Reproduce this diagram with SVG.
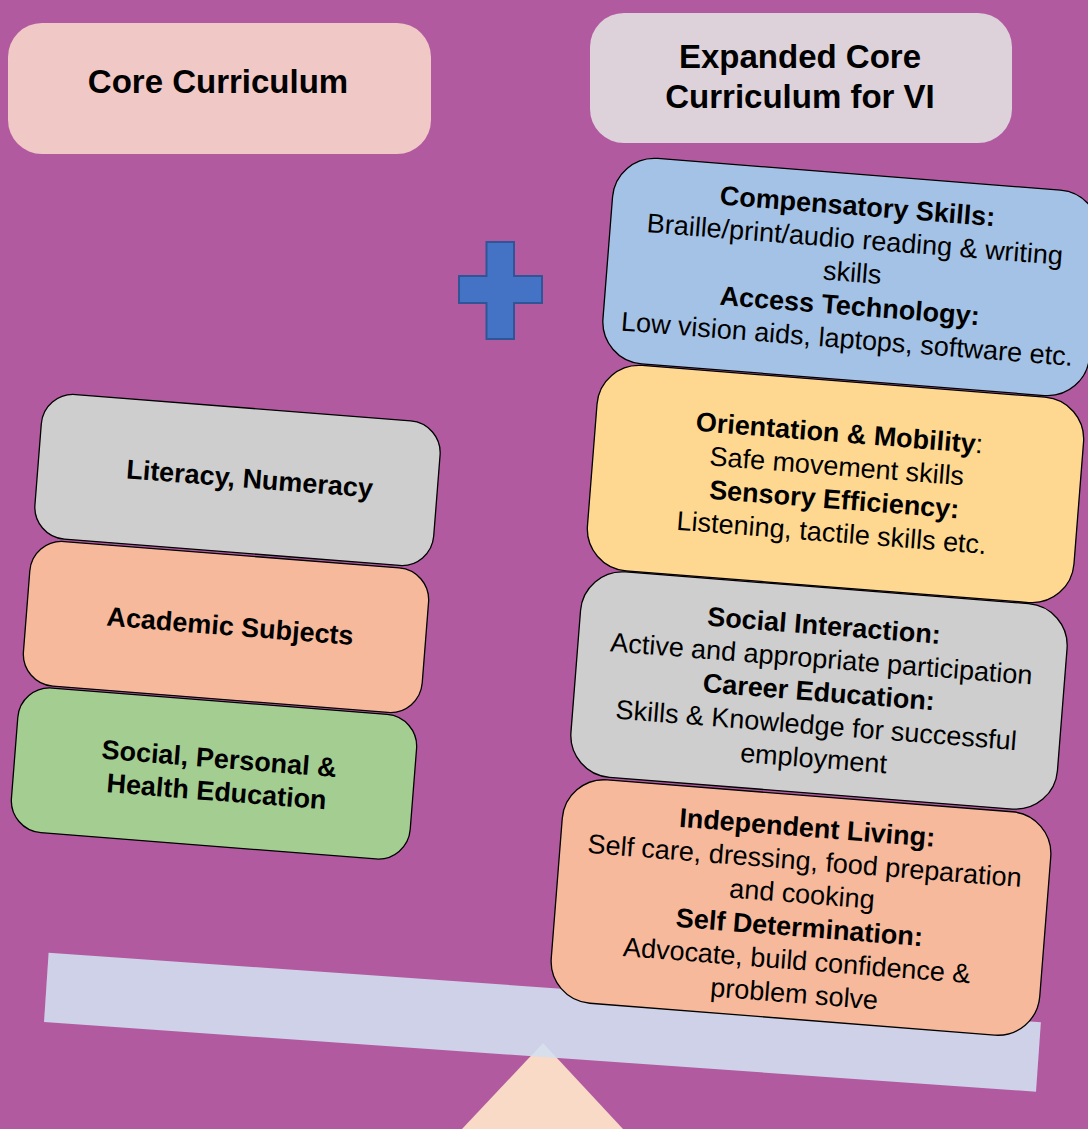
<svg xmlns="http://www.w3.org/2000/svg" width="1088" height="1129" viewBox="0 0 1088 1129">
<style>
text{font-family:"Liberation Sans",Arial,sans-serif;fill:#000;text-anchor:middle}
.h{font-size:33px;font-weight:bold}
.t{font-size:27px}
.b{font-weight:bold}
.box{stroke:#000;stroke-width:1.3}
</style>
<rect x="0" y="0" width="1088" height="1129" fill="#B15AA0"/>
<g id="fulcrum"><polygon points="543,1043 462,1129 623,1129" fill="#F8DAC6"/></g>
<g id="beam"><polygon points="48.6,952.7 1040.9,1022.3 1036,1091.7 44,1022" fill="#D1DFEF" fill-opacity="0.89"/></g>
<g id="header-core">
<rect x="8" y="23" width="423" height="131" rx="34" fill="#F0C8C6"/>
<text class="h" x="218" y="93">Core Curriculum</text>
</g>
<g id="header-expanded">
<rect x="590" y="13" width="422" height="130" rx="34" fill="#DDD2DA"/>
<text class="h" x="800" y="68">Expanded Core</text>
<text class="h" x="800" y="108">Curriculum for VI</text>
</g>
<g id="plus"><polygon points="486.5,242 514,242 514,276 542,276 542,303 514,303 514,339 486.5,339 486.5,303 459,303 459,276 486.5,276" fill="#4472C4" stroke="#2F5597" stroke-width="2"/></g>
<g id="literacy" transform="translate(237.5,480) rotate(4.5)">
<rect class="box" x="-200" y="-72.5" width="400" height="145" rx="32" fill="#CECECE"/>
<text class="t b" x="12" y="7">Literacy, Numeracy</text>
</g>
<g id="academic" transform="translate(226,627) rotate(4.5)">
<rect class="box" x="-200" y="-72.5" width="400" height="145" rx="32" fill="#F6B99C"/>
<text class="t b" x="4" y="8">Academic Subjects</text>
</g>
<g id="sphe" transform="translate(214,773.5) rotate(4.5)">
<rect class="box" x="-200" y="-72.5" width="400" height="145" rx="32" fill="#A4CD92"/>
<text class="t b" x="4" y="-6">Social, Personal &amp;</text>
<text class="t b" x="4" y="27">Health Education</text>
</g>
<g id="compensatory" transform="translate(851,277) rotate(4.5)">
<rect class="box" x="-244" y="-103" width="488" height="206" rx="42" fill="#A4C2E5"/>
<text class="t b" x="1" y="-62">Compensatory Skills:</text>
<text class="t" x="1" y="-28.7">Braille/print/audio reading &amp; writing</text>
<text class="t" x="1" y="4.6">skills</text>
<text class="t b" x="1" y="38">Access Technology:</text>
<text class="t" x="1" y="71.3">Low vision aids, laptops, software etc.</text>
</g>
<g id="orientation" transform="translate(835.5,484) rotate(4.5)">
<rect class="box" x="-244" y="-103" width="488" height="206" rx="42" fill="#FED891"/>
<text class="t" x="0" y="-42"><tspan class="b">Orientation &amp; Mobility</tspan>:</text>
<text class="t" x="0" y="-8.7">Safe movement skills</text>
<text class="t b" x="0" y="24.6">Sensory Efficiency:</text>
<text class="t" x="0" y="58">Listening, tactile skills etc.</text>
</g>
<g id="social" transform="translate(819,690.5) rotate(4.5)">
<rect class="box" x="-244" y="-103" width="488" height="206" rx="42" fill="#CECECE"/>
<text class="t b" x="0" y="-56">Social Interaction:</text>
<text class="t" x="0" y="-22.7">Active and appropriate participation</text>
<text class="t b" x="0" y="10.6">Career Education:</text>
<text class="t" x="0" y="44">Skills &amp; Knowledge for successful</text>
<text class="t" x="0" y="77.3">employment</text>
</g>
<g id="independent" transform="translate(801,907.5) rotate(4.5)">
<rect class="box" x="-245" y="-112" width="490" height="224" rx="42" fill="#F6B99C"/>
<text class="t b" x="0" y="-71">Independent Living:</text>
<text class="t" x="0" y="-37.7">Self care, dressing, food preparation</text>
<text class="t" x="0" y="-4.4">and cooking</text>
<text class="t b" x="0" y="29">Self Determination:</text>
<text class="t" x="0" y="62.3">Advocate, build confidence &amp;</text>
<text class="t" x="0" y="95.6">problem solve</text>
</g>
</svg>
